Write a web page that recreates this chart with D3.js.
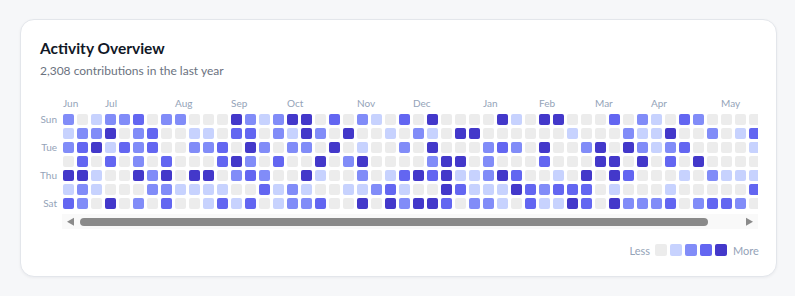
<!DOCTYPE html>
<html><head><meta charset="utf-8">
<script src="https://cdn.jsdelivr.net/npm/d3@7"></script>
<style>
html,body{margin:0;padding:0;background:#f6f7f9;width:795px;height:296px;overflow:hidden;font-family:Lato,sans-serif;}
#card{position:absolute;left:20px;top:19px;width:755px;height:256px;background:#fff;border:1px solid #e3e6eb;border-radius:14px;box-shadow:0 1px 3px rgba(16,24,40,0.05);}
#frame{position:absolute;left:0;top:0;}
#scroller{position:absolute;left:62px;top:94px;width:696px;height:120px;overflow:hidden;}
#scroller svg{display:block;}
</style></head><body>
<div id="card"></div>
<svg id="frame" width="795" height="296"></svg>
<div id="scroller"></div>
<script>
const title = "Activity Overview";
const subtitle = "2,308 contributions in the last year";
const dayNames = ["Sun","Mon","Tue","Wed","Thu","Fri","Sat"];
const dayLabels = ["Sun","","Tue","","Thu","","Sat"];
const monthNames = ["Jun","Jul","Aug","Sep","Oct","Nov","Dec","Jan","Feb","Mar","Apr","May"];
const monthWeeks = [0,3,8,12,16,21,25,30,34,38,42,47];
const levelColors = ["#ececec","#c7d2fe","#818cf8","#6366f1","#4338ca"];
const legendLevels = [0,1,2,3,4];

// contribution level (0-4) per week, one array per weekday
const sun = [2,0,1,2,2,3,0,2,2,0, 0,0,4,2,1,2,4,4,0,3, 0,2,1,0,3,0,4,0,0,0, 0,4,1,0,4,4,0,0,0,3, 0,2,1,0,3,2,0,0,0,0, 1,0,2];
const mon = [1,2,2,4,0,2,3,0,0,1, 1,0,3,3,0,2,1,4,2,0, 4,0,0,1,0,2,1,0,4,4, 0,0,0,0,0,0,1,0,0,0, 2,1,1,4,0,0,2,0,1,3, 0,3,0];
const tue = [2,3,4,1,3,2,3,0,0,2, 2,3,0,4,2,0,2,2,0,4, 0,1,0,0,2,0,4,0,0,0, 2,3,2,0,4,0,0,2,4,0, 4,2,1,2,3,0,0,0,0,1, 2,0,1];
const wed = [0,3,0,3,0,2,0,3,0,0, 0,3,4,2,0,3,0,0,4,0, 2,4,0,0,0,0,2,4,4,0, 2,0,0,0,3,0,0,0,4,4, 0,4,0,3,0,4,0,0,0,0, 0,1,0];
const thu = [4,4,1,0,0,4,2,4,0,4, 4,0,2,3,2,0,0,4,1,0, 0,2,0,1,3,4,3,4,1,1, 2,4,3,0,0,1,0,4,0,4, 3,0,0,0,1,0,2,1,1,1, 3,0,0];
const fri = [1,2,1,0,0,0,2,2,1,1, 1,1,0,0,3,1,2,1,0,0, 1,1,2,3,1,0,0,4,3,1, 1,1,4,3,2,3,3,3,0,1, 0,0,0,1,0,0,0,0,0,3, 0,2,0];
const sat = [3,2,0,4,0,2,0,3,0,0, 1,3,1,3,0,1,2,2,3,0, 0,4,0,4,2,4,4,3,0,2, 2,1,0,3,1,1,4,3,0,4, 2,2,2,3,0,2,3,3,2,0, 1,0,1];

const rows = [sun,mon,tue,wed,thu,fri,sat];
const nWeeks = sun.length;
const cells = [];
rows.forEach((r,di)=>r.forEach((v,wi)=>cells.push({week:wi, day:dayNames[di], level:v})));

const color = d3.scaleOrdinal().domain(legendLevels).range(levelColors);
const labelColor = "#94a3b8";

// ---- frame: title, day labels, legend ----
const frame = d3.select("#frame");
frame.append("text").attr("x",40).attr("y",54).attr("font-size",15.5).attr("font-weight",700)
  .attr("fill","#111827").text(title);
frame.append("text").attr("x",40).attr("y",75).attr("font-size",12)
  .attr("fill","#6b7280").text(subtitle);

const gridTop = 94;
const step = 14, gap = 3;
const x = d3.scaleBand().domain(d3.range(nWeeks)).range([1, 1 + nWeeks*step - gap]).paddingInner(gap/step);
const y = d3.scaleBand().domain(dayNames).range([20, 20 + 7*step - gap]).paddingInner(gap/step);

frame.append("g").selectAll("text").data(dayNames.map((d,i)=>({d, label:dayLabels[i]})).filter(o=>o.label))
  .join("text")
  .attr("x",57).attr("y",o=>gridTop + y(o.d) + y.bandwidth()/2)
  .attr("dy","0.35em").attr("text-anchor","end").attr("font-size",10).attr("fill",labelColor)
  .text(o=>o.label);

const lx = d3.scaleBand().domain(legendLevels).range([655, 655 + 5*15 - 3]).paddingInner(3/15);
const legend = frame.append("g");
legend.selectAll("rect").data(legendLevels).join("rect")
  .attr("x",d=>lx(d)).attr("y",244).attr("width",lx.bandwidth()).attr("height",lx.bandwidth())
  .attr("rx",2).attr("fill",d=>color(d));
legend.append("text").attr("x",lx(0)-5).attr("y",255).attr("text-anchor","end")
  .attr("font-size",11).attr("fill",labelColor).text("Less");
legend.append("text").attr("x",lx(4)+lx.bandwidth()+6).attr("y",255)
  .attr("font-size",11).attr("fill",labelColor).text("More");

// ---- scrollbar (drawn) ----
const sb = frame.append("g");
sb.append("rect").attr("x",62).attr("y",214).attr("width",696).attr("height",15).attr("fill","#f9f9f9");
sb.append("path").attr("d","M67,221.8L74,217.8L74,225.8Z").attr("fill","#8a8a8a");
sb.append("path").attr("d","M753,221.8L746,217.8L746,225.8Z").attr("fill","#8a8a8a");
sb.append("rect").attr("x",80).attr("y",218).attr("width",628).attr("height",8).attr("rx",4).attr("fill","#8a8a8a");

// ---- grid (clipped viewport) ----
const svg = d3.select("#scroller").append("svg")
  .attr("width", 1 + nWeeks*step - gap + 1).attr("height",120);

svg.append("g").selectAll("text").data(monthNames.map((m,i)=>({m, w:monthWeeks[i]})))
  .join("text").attr("x",d=>x(d.w)).attr("y",13)
  .attr("font-size",10).attr("fill",labelColor).text(d=>d.m);

svg.append("g").selectAll("rect").data(cells).join("rect")
  .attr("x",d=>x(d.week)).attr("y",d=>y(d.day))
  .attr("width",x.bandwidth()).attr("height",y.bandwidth())
  .attr("rx",2).attr("fill",d=>color(d.level));
</script>
</body></html>
